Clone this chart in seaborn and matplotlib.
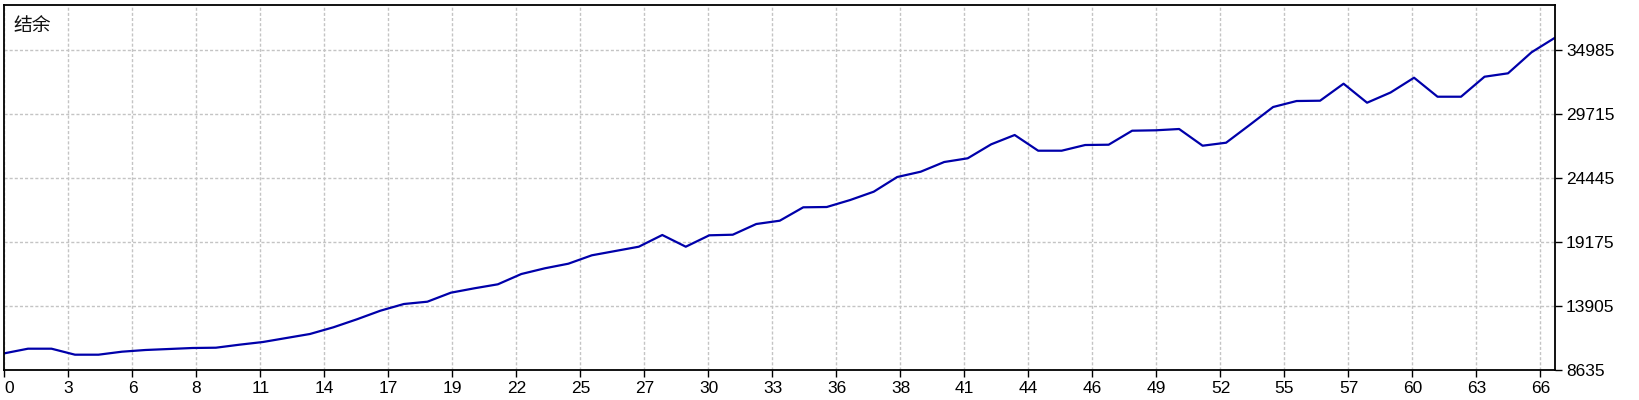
import matplotlib
matplotlib.use("Agg")
import matplotlib.pyplot as plt
import seaborn as sns
import numpy as np
import pandas as pd

# balance after each deal
balance = [10035, 10414, 10414, 9920, 9920, 10167, 10307, 10389, 10471, 10496,
           10743, 10965, 11295, 11624, 12176, 12834, 13542, 14094, 14284, 15025,
           15387, 15716, 16564, 17034, 17412, 18104, 18458, 18812, 19776, 18812,
           19751, 19800, 20681, 20953, 22056, 22081, 22658, 23341, 24551, 24988,
           25786, 26091, 27244, 28010, 26717, 26717, 27186, 27211, 28364, 28397,
           28504, 27129, 27376, 28833, 30315, 30809, 30834, 32234, 30669, 31509,
           32728, 31163, 31163, 32810, 33090, 34819, 36021]
deals = list(range(len(balance)))

y_ticks = [8635, 13905, 19175, 24445, 29715, 34985]
x_tick_labels = ["0", "3", "6", "8", "11", "14", "17", "19", "22", "25", "27", "30",
                 "33", "36", "38", "41", "44", "46", "49", "52", "55", "57", "60",
                 "63", "66"]
title = "结余"

df = pd.DataFrame({"deal": deals, "balance": balance})

sns.set_theme(style="white")
plt.rcParams["font.family"] = ["Liberation Sans", "DejaVu Sans", "Noto Sans CJK SC"]
plt.rcParams["lines.scale_dashes"] = False

fig = plt.figure(figsize=(16.4, 4.0), dpi=100)
fig.patch.set_facecolor("white")
W, H = 1640, 400
left, right, top, bottom = 4.5, 1555, 4.5, 370.3
ax = fig.add_axes([left / W, (H - bottom) / H, (right - left) / W, (bottom - top) / H])
ax.set_facecolor("white")

sns.lineplot(data=df, x="deal", y="balance", ax=ax, color="#0000AA", linewidth=1.6)

# axis ranges: 64 px grid step, 5270 per step
n = len(balance) - 1
px_per_deal = (right - left) / n
val_per_px = (y_ticks[1] - y_ticks[0]) / 64.0
ax.set_xlim(0, n)
ax.set_ylim(y_ticks[0], y_ticks[0] + (bottom - top) * val_per_px)

x_pos = np.arange(len(x_tick_labels)) * 64.0 / px_per_deal
ax.set_xticks(x_pos)
ax.set_xticklabels(x_tick_labels)
ax.get_xticklabels()[0].set_horizontalalignment("left")
ax.set_yticks(y_ticks)
ax.set_yticklabels([str(v) for v in y_ticks])

ax.yaxis.tick_right()
ax.tick_params(axis="both", which="both", direction="out", length=5, width=1,
               color="black", labelsize=12.5, labelcolor="black", pad=3)
ax.tick_params(axis="x", bottom=True)
ax.tick_params(axis="y", right=True, left=False)

ax.grid(True, color="#c4c4c4", linewidth=1, linestyle=(0, (2.2, 1.5)))
for s in ax.spines.values():
    s.set_visible(True)
    s.set_color("black")
    s.set_linewidth(1.3)

ax.set_xlabel("")
ax.set_ylabel("")
ax.text(0.0055, 0.972, title, transform=ax.transAxes, ha="left", va="top",
        fontsize=13.5, color="#111111", family=["Noto Sans CJK SC", "DejaVu Sans"])

fig.savefig("out.png", dpi=100, facecolor="white")
